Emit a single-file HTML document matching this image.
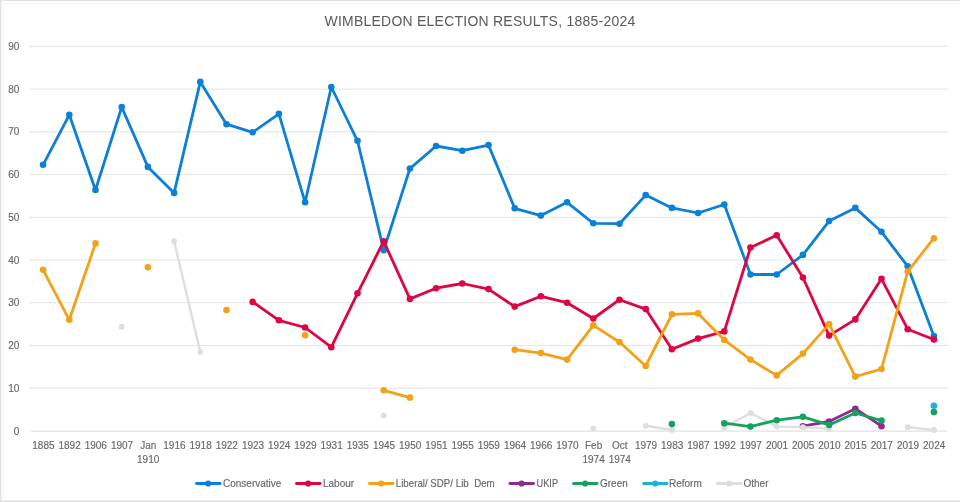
<!DOCTYPE html><html><head><meta charset="utf-8"><style>html,body{margin:0;padding:0;background:#fff;}body{width:960px;height:502px;overflow:hidden;font-family:"Liberation Sans",sans-serif;}svg{display:block;}</style></head><body><svg width="960" height="502" viewBox="0 0 960 502" style="will-change:transform"><rect x="0" y="0" width="960" height="502" fill="#fff"/><rect x="0" y="0" width="960" height="1" fill="#dedede"/><rect x="0" y="0" width="1.5" height="502" fill="#e2e2e2"/><rect x="0" y="500.4" width="960" height="1.6" fill="#e0e0e0"/><rect x="0" y="3" width="960" height="1" fill="#f6f6f6"/><rect x="3" y="0" width="1" height="502" fill="#f6f6f6"/><text x="0" y="25.6" transform="translate(480.0,0) scale(0.90,1)" text-anchor="middle" font-family="Liberation Sans" font-size="15.5" letter-spacing="0.3" fill="#5a5a5a" id="title">WIMBLEDON ELECTION RESULTS, 1885-2024</text><rect x="29.2" y="387.68" width="918.3" height="1" fill="#e4e4e4"/><text x="19.4" y="391.78" text-anchor="end" font-family="Liberation Sans" font-size="10" fill="#686868" stroke="#686868" stroke-width="0.15">10</text><rect x="29.2" y="344.96" width="918.3" height="1" fill="#e4e4e4"/><text x="19.4" y="349.06" text-anchor="end" font-family="Liberation Sans" font-size="10" fill="#686868" stroke="#686868" stroke-width="0.15">20</text><rect x="29.2" y="302.24" width="918.3" height="1" fill="#e4e4e4"/><text x="19.4" y="306.34" text-anchor="end" font-family="Liberation Sans" font-size="10" fill="#686868" stroke="#686868" stroke-width="0.15">30</text><rect x="29.2" y="259.52" width="918.3" height="1" fill="#e4e4e4"/><text x="19.4" y="263.62" text-anchor="end" font-family="Liberation Sans" font-size="10" fill="#686868" stroke="#686868" stroke-width="0.15">40</text><rect x="29.2" y="216.80" width="918.3" height="1" fill="#e4e4e4"/><text x="19.4" y="220.90" text-anchor="end" font-family="Liberation Sans" font-size="10" fill="#686868" stroke="#686868" stroke-width="0.15">50</text><rect x="29.2" y="174.08" width="918.3" height="1" fill="#e4e4e4"/><text x="19.4" y="178.18" text-anchor="end" font-family="Liberation Sans" font-size="10" fill="#686868" stroke="#686868" stroke-width="0.15">60</text><rect x="29.2" y="131.36" width="918.3" height="1" fill="#e4e4e4"/><text x="19.4" y="135.46" text-anchor="end" font-family="Liberation Sans" font-size="10" fill="#686868" stroke="#686868" stroke-width="0.15">70</text><rect x="29.2" y="88.64" width="918.3" height="1" fill="#e4e4e4"/><text x="19.4" y="92.74" text-anchor="end" font-family="Liberation Sans" font-size="10" fill="#686868" stroke="#686868" stroke-width="0.15">80</text><rect x="29.2" y="45.92" width="918.3" height="1" fill="#e4e4e4"/><text x="19.4" y="50.02" text-anchor="end" font-family="Liberation Sans" font-size="10" fill="#686868" stroke="#686868" stroke-width="0.15">90</text><rect x="30.6" y="430.5" width="916.4" height="1.2" fill="#e0e0e0"/><text x="19.4" y="434.50" text-anchor="end" font-family="Liberation Sans" font-size="10" fill="#686868" stroke="#686868" stroke-width="0.15">0</text><text x="43.4" y="448.8" text-anchor="middle" font-family="Liberation Sans" font-size="10" fill="#686868" stroke="#686868" stroke-width="0.15">1885</text><text x="69.6" y="448.8" text-anchor="middle" font-family="Liberation Sans" font-size="10" fill="#686868" stroke="#686868" stroke-width="0.15">1892</text><text x="95.8" y="448.8" text-anchor="middle" font-family="Liberation Sans" font-size="10" fill="#686868" stroke="#686868" stroke-width="0.15">1906</text><text x="122.0" y="448.8" text-anchor="middle" font-family="Liberation Sans" font-size="10" fill="#686868" stroke="#686868" stroke-width="0.15">1907</text><text x="148.2" y="448.8" text-anchor="middle" font-family="Liberation Sans" font-size="10" fill="#686868" stroke="#686868" stroke-width="0.15">Jan</text><text x="148.2" y="462.8" text-anchor="middle" font-family="Liberation Sans" font-size="10" fill="#686868" stroke="#686868" stroke-width="0.15">1910</text><text x="174.4" y="448.8" text-anchor="middle" font-family="Liberation Sans" font-size="10" fill="#686868" stroke="#686868" stroke-width="0.15">1916</text><text x="200.6" y="448.8" text-anchor="middle" font-family="Liberation Sans" font-size="10" fill="#686868" stroke="#686868" stroke-width="0.15">1918</text><text x="226.8" y="448.8" text-anchor="middle" font-family="Liberation Sans" font-size="10" fill="#686868" stroke="#686868" stroke-width="0.15">1922</text><text x="253.0" y="448.8" text-anchor="middle" font-family="Liberation Sans" font-size="10" fill="#686868" stroke="#686868" stroke-width="0.15">1923</text><text x="279.2" y="448.8" text-anchor="middle" font-family="Liberation Sans" font-size="10" fill="#686868" stroke="#686868" stroke-width="0.15">1924</text><text x="305.4" y="448.8" text-anchor="middle" font-family="Liberation Sans" font-size="10" fill="#686868" stroke="#686868" stroke-width="0.15">1929</text><text x="331.6" y="448.8" text-anchor="middle" font-family="Liberation Sans" font-size="10" fill="#686868" stroke="#686868" stroke-width="0.15">1931</text><text x="357.8" y="448.8" text-anchor="middle" font-family="Liberation Sans" font-size="10" fill="#686868" stroke="#686868" stroke-width="0.15">1935</text><text x="384.0" y="448.8" text-anchor="middle" font-family="Liberation Sans" font-size="10" fill="#686868" stroke="#686868" stroke-width="0.15">1945</text><text x="410.2" y="448.8" text-anchor="middle" font-family="Liberation Sans" font-size="10" fill="#686868" stroke="#686868" stroke-width="0.15">1950</text><text x="436.4" y="448.8" text-anchor="middle" font-family="Liberation Sans" font-size="10" fill="#686868" stroke="#686868" stroke-width="0.15">1951</text><text x="462.6" y="448.8" text-anchor="middle" font-family="Liberation Sans" font-size="10" fill="#686868" stroke="#686868" stroke-width="0.15">1955</text><text x="488.8" y="448.8" text-anchor="middle" font-family="Liberation Sans" font-size="10" fill="#686868" stroke="#686868" stroke-width="0.15">1959</text><text x="515.0" y="448.8" text-anchor="middle" font-family="Liberation Sans" font-size="10" fill="#686868" stroke="#686868" stroke-width="0.15">1964</text><text x="541.2" y="448.8" text-anchor="middle" font-family="Liberation Sans" font-size="10" fill="#686868" stroke="#686868" stroke-width="0.15">1966</text><text x="567.4" y="448.8" text-anchor="middle" font-family="Liberation Sans" font-size="10" fill="#686868" stroke="#686868" stroke-width="0.15">1970</text><text x="593.6" y="448.8" text-anchor="middle" font-family="Liberation Sans" font-size="10" fill="#686868" stroke="#686868" stroke-width="0.15">Feb</text><text x="593.6" y="462.8" text-anchor="middle" font-family="Liberation Sans" font-size="10" fill="#686868" stroke="#686868" stroke-width="0.15">1974</text><text x="619.8" y="448.8" text-anchor="middle" font-family="Liberation Sans" font-size="10" fill="#686868" stroke="#686868" stroke-width="0.15">Oct</text><text x="619.8" y="462.8" text-anchor="middle" font-family="Liberation Sans" font-size="10" fill="#686868" stroke="#686868" stroke-width="0.15">1974</text><text x="646.0" y="448.8" text-anchor="middle" font-family="Liberation Sans" font-size="10" fill="#686868" stroke="#686868" stroke-width="0.15">1979</text><text x="672.2" y="448.8" text-anchor="middle" font-family="Liberation Sans" font-size="10" fill="#686868" stroke="#686868" stroke-width="0.15">1983</text><text x="698.4" y="448.8" text-anchor="middle" font-family="Liberation Sans" font-size="10" fill="#686868" stroke="#686868" stroke-width="0.15">1987</text><text x="724.6" y="448.8" text-anchor="middle" font-family="Liberation Sans" font-size="10" fill="#686868" stroke="#686868" stroke-width="0.15">1992</text><text x="750.8" y="448.8" text-anchor="middle" font-family="Liberation Sans" font-size="10" fill="#686868" stroke="#686868" stroke-width="0.15">1997</text><text x="777.0" y="448.8" text-anchor="middle" font-family="Liberation Sans" font-size="10" fill="#686868" stroke="#686868" stroke-width="0.15">2001</text><text x="803.2" y="448.8" text-anchor="middle" font-family="Liberation Sans" font-size="10" fill="#686868" stroke="#686868" stroke-width="0.15">2005</text><text x="829.4" y="448.8" text-anchor="middle" font-family="Liberation Sans" font-size="10" fill="#686868" stroke="#686868" stroke-width="0.15">2010</text><text x="855.6" y="448.8" text-anchor="middle" font-family="Liberation Sans" font-size="10" fill="#686868" stroke="#686868" stroke-width="0.15">2015</text><text x="881.8" y="448.8" text-anchor="middle" font-family="Liberation Sans" font-size="10" fill="#686868" stroke="#686868" stroke-width="0.15">2017</text><text x="908.0" y="448.8" text-anchor="middle" font-family="Liberation Sans" font-size="10" fill="#686868" stroke="#686868" stroke-width="0.15">2019</text><text x="934.2" y="448.8" text-anchor="middle" font-family="Liberation Sans" font-size="10" fill="#686868" stroke="#686868" stroke-width="0.15">2024</text><path d="M43.1,164.8 L69.3,114.8 L95.5,190.0 L121.7,107.1 L147.9,166.9 L174.1,192.9 L200.3,81.9 L226.5,124.2 L252.7,132.3 L278.9,113.9 L305.1,202.3 L331.3,87.0 L357.5,140.8 L383.7,250.2 L409.9,168.6 L436.1,146.0 L462.3,150.7 L488.5,145.1 L514.7,208.3 L540.9,215.6 L567.1,202.3 L593.3,223.3 L619.5,223.7 L645.7,195.1 L671.9,207.9 L698.1,213.0 L724.3,204.5 L750.5,274.5 L776.7,274.5 L802.9,254.9 L829.1,221.1 L855.3,207.9 L881.5,231.8 L907.7,266.4 L933.9,336.1" fill="none" stroke="#0C80D6" stroke-width="2.8" stroke-linejoin="round" stroke-linecap="round"/><circle cx="43.1" cy="164.8" r="3.3" fill="#0C80D6"/><circle cx="69.3" cy="114.8" r="3.3" fill="#0C80D6"/><circle cx="95.5" cy="190.0" r="3.3" fill="#0C80D6"/><circle cx="121.7" cy="107.1" r="3.3" fill="#0C80D6"/><circle cx="147.9" cy="166.9" r="3.3" fill="#0C80D6"/><circle cx="174.1" cy="192.9" r="3.3" fill="#0C80D6"/><circle cx="200.3" cy="81.9" r="3.3" fill="#0C80D6"/><circle cx="226.5" cy="124.2" r="3.3" fill="#0C80D6"/><circle cx="252.7" cy="132.3" r="3.3" fill="#0C80D6"/><circle cx="278.9" cy="113.9" r="3.3" fill="#0C80D6"/><circle cx="305.1" cy="202.3" r="3.3" fill="#0C80D6"/><circle cx="331.3" cy="87.0" r="3.3" fill="#0C80D6"/><circle cx="357.5" cy="140.8" r="3.3" fill="#0C80D6"/><circle cx="383.7" cy="250.2" r="3.3" fill="#0C80D6"/><circle cx="409.9" cy="168.6" r="3.3" fill="#0C80D6"/><circle cx="436.1" cy="146.0" r="3.3" fill="#0C80D6"/><circle cx="462.3" cy="150.7" r="3.3" fill="#0C80D6"/><circle cx="488.5" cy="145.1" r="3.3" fill="#0C80D6"/><circle cx="514.7" cy="208.3" r="3.3" fill="#0C80D6"/><circle cx="540.9" cy="215.6" r="3.3" fill="#0C80D6"/><circle cx="567.1" cy="202.3" r="3.3" fill="#0C80D6"/><circle cx="593.3" cy="223.3" r="3.3" fill="#0C80D6"/><circle cx="619.5" cy="223.7" r="3.3" fill="#0C80D6"/><circle cx="645.7" cy="195.1" r="3.3" fill="#0C80D6"/><circle cx="671.9" cy="207.9" r="3.3" fill="#0C80D6"/><circle cx="698.1" cy="213.0" r="3.3" fill="#0C80D6"/><circle cx="724.3" cy="204.5" r="3.3" fill="#0C80D6"/><circle cx="750.5" cy="274.5" r="3.3" fill="#0C80D6"/><circle cx="776.7" cy="274.5" r="3.3" fill="#0C80D6"/><circle cx="802.9" cy="254.9" r="3.3" fill="#0C80D6"/><circle cx="829.1" cy="221.1" r="3.3" fill="#0C80D6"/><circle cx="855.3" cy="207.9" r="3.3" fill="#0C80D6"/><circle cx="881.5" cy="231.8" r="3.3" fill="#0C80D6"/><circle cx="907.7" cy="266.4" r="3.3" fill="#0C80D6"/><circle cx="933.9" cy="336.1" r="3.3" fill="#0C80D6"/><path d="M252.7,301.9 L278.9,320.3 L305.1,327.5 L331.3,347.2 L357.5,293.3 L383.7,241.2 L409.9,298.9 L436.1,288.2 L462.3,283.5 L488.5,289.1 L514.7,306.6 L540.9,296.3 L567.1,302.7 L593.3,318.5 L619.5,299.7 L645.7,309.1 L671.9,349.3 L698.1,338.6 L724.3,331.4 L750.5,247.6 L776.7,235.2 L802.9,277.5 L829.1,335.6 L855.3,319.4 L881.5,278.8 L907.7,329.2 L933.9,339.5" fill="none" stroke="#DE0542" stroke-width="2.8" stroke-linejoin="round" stroke-linecap="round"/><circle cx="252.7" cy="301.9" r="3.3" fill="#DE0542"/><circle cx="278.9" cy="320.3" r="3.3" fill="#DE0542"/><circle cx="305.1" cy="327.5" r="3.3" fill="#DE0542"/><circle cx="331.3" cy="347.2" r="3.3" fill="#DE0542"/><circle cx="357.5" cy="293.3" r="3.3" fill="#DE0542"/><circle cx="383.7" cy="241.2" r="3.3" fill="#DE0542"/><circle cx="409.9" cy="298.9" r="3.3" fill="#DE0542"/><circle cx="436.1" cy="288.2" r="3.3" fill="#DE0542"/><circle cx="462.3" cy="283.5" r="3.3" fill="#DE0542"/><circle cx="488.5" cy="289.1" r="3.3" fill="#DE0542"/><circle cx="514.7" cy="306.6" r="3.3" fill="#DE0542"/><circle cx="540.9" cy="296.3" r="3.3" fill="#DE0542"/><circle cx="567.1" cy="302.7" r="3.3" fill="#DE0542"/><circle cx="593.3" cy="318.5" r="3.3" fill="#DE0542"/><circle cx="619.5" cy="299.7" r="3.3" fill="#DE0542"/><circle cx="645.7" cy="309.1" r="3.3" fill="#DE0542"/><circle cx="671.9" cy="349.3" r="3.3" fill="#DE0542"/><circle cx="698.1" cy="338.6" r="3.3" fill="#DE0542"/><circle cx="724.3" cy="331.4" r="3.3" fill="#DE0542"/><circle cx="750.5" cy="247.6" r="3.3" fill="#DE0542"/><circle cx="776.7" cy="235.2" r="3.3" fill="#DE0542"/><circle cx="802.9" cy="277.5" r="3.3" fill="#DE0542"/><circle cx="829.1" cy="335.6" r="3.3" fill="#DE0542"/><circle cx="855.3" cy="319.4" r="3.3" fill="#DE0542"/><circle cx="881.5" cy="278.8" r="3.3" fill="#DE0542"/><circle cx="907.7" cy="329.2" r="3.3" fill="#DE0542"/><circle cx="933.9" cy="339.5" r="3.3" fill="#DE0542"/><path d="M43.1,269.8 L69.3,319.8 L95.5,243.4" fill="none" stroke="#F3A218" stroke-width="2.8" stroke-linejoin="round" stroke-linecap="round"/><path d="M383.7,390.3 L409.9,397.6" fill="none" stroke="#F3A218" stroke-width="2.8" stroke-linejoin="round" stroke-linecap="round"/><path d="M514.7,349.7 L540.9,353.1 L567.1,359.6 L593.3,325.4 L619.5,342.0 L645.7,366.0 L671.9,314.3 L698.1,313.4 L724.3,339.9 L750.5,359.6 L776.7,375.4 L802.9,353.6 L829.1,324.1 L855.3,376.6 L881.5,369.0 L907.7,271.6 L933.9,238.2" fill="none" stroke="#F3A218" stroke-width="2.8" stroke-linejoin="round" stroke-linecap="round"/><circle cx="43.1" cy="269.8" r="3.3" fill="#F3A218"/><circle cx="69.3" cy="319.8" r="3.3" fill="#F3A218"/><circle cx="95.5" cy="243.4" r="3.3" fill="#F3A218"/><circle cx="147.9" cy="267.3" r="3.3" fill="#F3A218"/><circle cx="226.5" cy="310.0" r="3.3" fill="#F3A218"/><circle cx="305.1" cy="335.2" r="3.3" fill="#F3A218"/><circle cx="383.7" cy="390.3" r="3.3" fill="#F3A218"/><circle cx="409.9" cy="397.6" r="3.3" fill="#F3A218"/><circle cx="514.7" cy="349.7" r="3.3" fill="#F3A218"/><circle cx="540.9" cy="353.1" r="3.3" fill="#F3A218"/><circle cx="567.1" cy="359.6" r="3.3" fill="#F3A218"/><circle cx="593.3" cy="325.4" r="3.3" fill="#F3A218"/><circle cx="619.5" cy="342.0" r="3.3" fill="#F3A218"/><circle cx="645.7" cy="366.0" r="3.3" fill="#F3A218"/><circle cx="671.9" cy="314.3" r="3.3" fill="#F3A218"/><circle cx="698.1" cy="313.4" r="3.3" fill="#F3A218"/><circle cx="724.3" cy="339.9" r="3.3" fill="#F3A218"/><circle cx="750.5" cy="359.6" r="3.3" fill="#F3A218"/><circle cx="776.7" cy="375.4" r="3.3" fill="#F3A218"/><circle cx="802.9" cy="353.6" r="3.3" fill="#F3A218"/><circle cx="829.1" cy="324.1" r="3.3" fill="#F3A218"/><circle cx="855.3" cy="376.6" r="3.3" fill="#F3A218"/><circle cx="881.5" cy="369.0" r="3.3" fill="#F3A218"/><circle cx="907.7" cy="271.6" r="3.3" fill="#F3A218"/><circle cx="933.9" cy="238.2" r="3.3" fill="#F3A218"/><path d="M802.9,426.2 L829.1,421.5 L855.3,408.7 L881.5,426.2" fill="none" stroke="#8F2A90" stroke-width="2.8" stroke-linejoin="round" stroke-linecap="round"/><circle cx="802.9" cy="426.2" r="3.3" fill="#8F2A90"/><circle cx="829.1" cy="421.5" r="3.3" fill="#8F2A90"/><circle cx="855.3" cy="408.7" r="3.3" fill="#8F2A90"/><circle cx="881.5" cy="426.2" r="3.3" fill="#8F2A90"/><path d="M174.1,241.2 L200.3,351.9" fill="none" stroke="#DEDEDE" stroke-width="2.4" stroke-linejoin="round" stroke-linecap="round"/><path d="M645.7,425.8 L671.9,430.0" fill="none" stroke="#DEDEDE" stroke-width="2.4" stroke-linejoin="round" stroke-linecap="round"/><path d="M724.3,427.5 L750.5,413.0 L776.7,426.6 L802.9,427.1 L829.1,428.8" fill="none" stroke="#DEDEDE" stroke-width="2.4" stroke-linejoin="round" stroke-linecap="round"/><path d="M907.7,427.1 L933.9,430.0" fill="none" stroke="#DEDEDE" stroke-width="2.4" stroke-linejoin="round" stroke-linecap="round"/><circle cx="121.7" cy="326.7" r="2.9" fill="#DEDEDE"/><circle cx="174.1" cy="241.2" r="2.9" fill="#DEDEDE"/><circle cx="200.3" cy="351.9" r="2.9" fill="#DEDEDE"/><circle cx="383.7" cy="415.5" r="2.9" fill="#DEDEDE"/><circle cx="593.3" cy="428.3" r="2.9" fill="#DEDEDE"/><circle cx="645.7" cy="425.8" r="2.9" fill="#DEDEDE"/><circle cx="671.9" cy="430.0" r="2.9" fill="#DEDEDE"/><circle cx="724.3" cy="427.5" r="2.9" fill="#DEDEDE"/><circle cx="750.5" cy="413.0" r="2.9" fill="#DEDEDE"/><circle cx="776.7" cy="426.6" r="2.9" fill="#DEDEDE"/><circle cx="802.9" cy="427.1" r="2.9" fill="#DEDEDE"/><circle cx="829.1" cy="428.8" r="2.9" fill="#DEDEDE"/><circle cx="907.7" cy="427.1" r="2.9" fill="#DEDEDE"/><circle cx="933.9" cy="430.0" r="2.9" fill="#DEDEDE"/><path d="M724.3,423.2 L750.5,426.6 L776.7,420.2 L802.9,416.8 L829.1,424.9 L855.3,413.0 L881.5,420.6" fill="none" stroke="#16A160" stroke-width="2.8" stroke-linejoin="round" stroke-linecap="round"/><circle cx="671.9" cy="424.1" r="3.3" fill="#16A160"/><circle cx="724.3" cy="423.2" r="3.3" fill="#16A160"/><circle cx="750.5" cy="426.6" r="3.3" fill="#16A160"/><circle cx="776.7" cy="420.2" r="3.3" fill="#16A160"/><circle cx="802.9" cy="416.8" r="3.3" fill="#16A160"/><circle cx="829.1" cy="424.9" r="3.3" fill="#16A160"/><circle cx="855.3" cy="413.0" r="3.3" fill="#16A160"/><circle cx="881.5" cy="420.6" r="3.3" fill="#16A160"/><circle cx="933.9" cy="412.1" r="3.3" fill="#16A160"/><circle cx="933.9" cy="405.7" r="3.3" fill="#1EB3D2"/><path d="M196.5,483.5 L220.1,483.5" stroke="#0C80D6" stroke-width="2.8" stroke-linecap="round"/><circle cx="208.2" cy="483.5" r="3.1" fill="#0C80D6"/><text x="0" y="487.2" transform="translate(223.0,0) scale(1.0,1)" font-family="Liberation Sans" font-size="10" fill="#686868" stroke="#686868" stroke-width="0.15" style="white-space:pre">Conservative</text><path d="M296.5,483.5 L320.1,483.5" stroke="#DE0542" stroke-width="2.8" stroke-linecap="round"/><circle cx="308.2" cy="483.5" r="3.1" fill="#DE0542"/><text x="0" y="487.2" transform="translate(323.0,0) scale(1.0,1)" font-family="Liberation Sans" font-size="10" fill="#686868" stroke="#686868" stroke-width="0.15" style="white-space:pre">Labour</text><path d="M369.5,483.5 L393.1,483.5" stroke="#F3A218" stroke-width="2.8" stroke-linecap="round"/><circle cx="381.2" cy="483.5" r="3.1" fill="#F3A218"/><text x="0" y="487.2" transform="translate(395.8,0) scale(0.972,1)" font-family="Liberation Sans" font-size="10" fill="#686868" stroke="#686868" stroke-width="0.15" style="white-space:pre">Liberal/ SDP/ Lib  Dem</text><path d="M509.9,483.5 L533.5,483.5" stroke="#8F2A90" stroke-width="2.8" stroke-linecap="round"/><circle cx="521.6" cy="483.5" r="3.1" fill="#8F2A90"/><text x="0" y="487.2" transform="translate(536.5,0) scale(0.925,1)" font-family="Liberation Sans" font-size="10" fill="#686868" stroke="#686868" stroke-width="0.15" style="white-space:pre">UKIP</text><path d="M573.5,483.5 L597.1,483.5" stroke="#16A160" stroke-width="2.8" stroke-linecap="round"/><circle cx="585.2" cy="483.5" r="3.1" fill="#16A160"/><text x="0" y="487.2" transform="translate(600.0,0) scale(1.0,1)" font-family="Liberation Sans" font-size="10" fill="#686868" stroke="#686868" stroke-width="0.15" style="white-space:pre">Green</text><path d="M643.5,483.5 L667.1,483.5" stroke="#1EB3D2" stroke-width="2.8" stroke-linecap="round"/><circle cx="655.2" cy="483.5" r="3.1" fill="#1EB3D2"/><text x="0" y="487.2" transform="translate(669.0,0) scale(1.0,1)" font-family="Liberation Sans" font-size="10" fill="#686868" stroke="#686868" stroke-width="0.15" style="white-space:pre">Reform</text><path d="M717.6,483.5 L741.2,483.5" stroke="#DEDEDE" stroke-width="2.8" stroke-linecap="round"/><circle cx="729.3" cy="483.5" r="3.1" fill="#DEDEDE"/><text x="0" y="487.2" transform="translate(743.5,0) scale(1.0,1)" font-family="Liberation Sans" font-size="10" fill="#686868" stroke="#686868" stroke-width="0.15" style="white-space:pre">Other</text></svg></body></html>
